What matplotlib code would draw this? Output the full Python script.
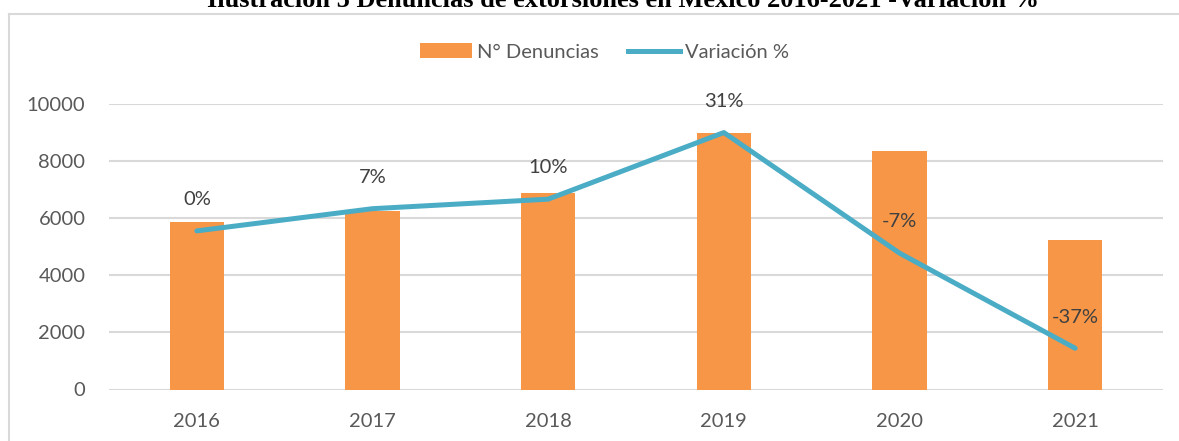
import matplotlib.pyplot as plt
from matplotlib.lines import Line2D
from matplotlib.patches import Patch

# data
years = ['2016', '2017', '2018', '2019', '2020', '2021']
denuncias = [5852, 6258, 6878, 8988, 8358, 5232]
variacion = [0, 7, 10, 31, -7, -37]
var_labels = ['0%', '7%', '10%', '31%', '-7%', '-37%']

orange = '#f79646'
blue = '#4bacc6'
grid_c = '#d9d9d9'
txt_c = '#595959'

plt.rcParams['font.family'] = ['Lato', 'DejaVu Sans']

W, H = 1179, 441
fig = plt.figure(figsize=(W / 100, H / 100), dpi=100)

# axes placed in pixel units
x0, x1, ytop, ybot = 109, 1163, 104, 389.5
ax = fig.add_axes([x0 / W, 1 - ybot / H, (x1 - x0) / W, (ybot - ytop) / H])

x = list(range(len(years)))
ax.bar(x, denuncias, width=0.31, color=orange, zorder=2)
ax.set_xlim(-0.5, len(years) - 0.5)
ax.set_ylim(0, 10000)
ax.set_yticks(range(0, 10001, 2000))
ax.set_xticks(x)
ax.set_xticklabels(years)
ax.yaxis.grid(True, color=grid_c, linewidth=1.5, zorder=0)
ax.set_axisbelow(True)
for s in ax.spines.values():
    s.set_visible(False)
ax.tick_params(length=0, labelsize=14.5, colors=txt_c)
ax.tick_params(axis='y', pad=17)
ax.tick_params(axis='x', pad=17)

# secondary (hidden) axis for the variation line
ax2 = ax.twinx()
ax2.set_ylim(-50, 40)
ax2.plot(x, variacion, color=blue, linewidth=3.6, solid_capstyle='round', zorder=3)
ax2.axis('off')
for xi, v, lab in zip(x, variacion, var_labels):
    ax2.annotate(lab, (xi, v), xytext=(0, 22.5), textcoords='offset points',
                 ha='center', va='center', fontsize=14.5, color='#404040')

# legend
handles = [Patch(facecolor=orange, edgecolor='none'),
           Line2D([0], [0], color=blue, linewidth=3.6)]
fig.legend(handles, ['N° Denuncias', 'Variación %'], loc='center',
           bbox_to_anchor=(604.5 / W, 1 - 52 / H), ncol=2, frameon=False,
           fontsize=14.5, labelcolor=txt_c, handlelength=2.6,
           handletextpad=0.25, columnspacing=1.45)

# chart area border (only top and left visible in the crop)
fig.add_artist(Line2D([9.5 / W, 9.5 / W], [0, 1 - 13.5 / H], color=grid_c,
                      linewidth=1.5, transform=fig.transFigure))
fig.add_artist(Line2D([9.5 / W, 1], [1 - 13.5 / H, 1 - 13.5 / H], color=grid_c,
                      linewidth=1.5, transform=fig.transFigure))

# title, cut off by the top edge like in the source
fig.text(623 / W, 1 - 7 / H,
         'Ilustración 5 Denuncias de extorsiones en México 2016-2021 -Variación %',
         ha='center', va='baseline', fontsize=19, fontweight='bold',
         family=['Liberation Serif', 'DejaVu Serif'])

fig.savefig('out.png', dpi=100)
